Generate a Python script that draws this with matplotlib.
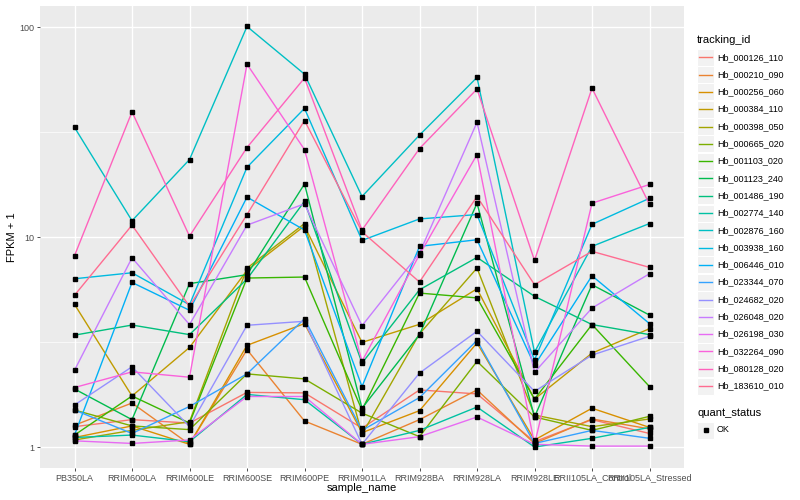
import matplotlib
matplotlib.use('Agg')
import matplotlib.pyplot as plt
from matplotlib.patches import Rectangle
from matplotlib.lines import Line2D

plt.rcParams['font.family'] = ['Liberation Sans', 'DejaVu Sans']

samples = ["PB350LA", "RRIM600LA", "RRIM600LE", "RRIM600SE", "RRIM600PE", "RRIM901LA",
           "RRIM928BA", "RRIM928LA", "RRIM928LE", "RRII105LA_Control", "RRII105LA_Stressed"]

tracking_ids = ["Hb_000126_110", "Hb_000210_090", "Hb_000256_060", "Hb_000384_110",
                "Hb_000398_050", "Hb_000665_020", "Hb_001103_020", "Hb_001123_240",
                "Hb_001486_190", "Hb_002774_140", "Hb_002876_160", "Hb_003938_160",
                "Hb_006446_010", "Hb_023344_070", "Hb_024682_020", "Hb_026048_020",
                "Hb_026198_030", "Hb_032264_090", "Hb_080128_020", "Hb_183610_010"]

colors = ["#F8766D", "#EA8331", "#D89000", "#C09B00", "#A3A500", "#7CAE00", "#39B600",
          "#00BB4E", "#00BF7D", "#00C1A3", "#00BFC4", "#00BAE0", "#00B0F6", "#35A2FF",
          "#9590FF", "#C77CFF", "#E76BF3", "#FA62DB", "#FF62BC", "#FF6C91"]

# FPKM + 1 per sample (order of `samples`)
hb_000126_110 = [1.25, 1.35, 1.30, 1.82, 1.81, 1.23, 1.87, 1.79, 1.06, 1.35, 1.16]
hb_000210_090 = [1.27, 1.62, 1.03, 2.91, 1.33, 1.03, 1.35, 1.87, 1.04, 1.36, 1.22]
hb_000256_060 = [1.11, 1.26, 1.03, 3.05, 3.87, 1.17, 1.49, 3.13, 1.08, 1.53, 1.24]
hb_000384_110 = [4.78, 1.75, 2.98, 6.94, 11.3, 3.15, 3.84, 5.67, 1.69, 2.80, 3.66]
hb_000398_050 = [1.08, 1.20, 1.32, 7.11, 11.6, 1.15, 3.46, 7.12, 1.42, 1.25, 1.36]
hb_000665_020 = [1.50, 1.26, 1.21, 2.23, 2.11, 1.45, 1.12, 2.56, 1.39, 1.20, 1.40]
hb_001103_020 = [1.14, 1.75, 1.30, 6.38, 6.45, 1.50, 5.41, 5.13, 1.69, 3.83, 1.94]
hb_001123_240 = [1.89, 1.35, 6.00, 6.62, 17.9, 1.53, 3.43, 14.5, 1.39, 5.93, 4.25]
hb_001486_190 = [3.41, 3.81, 3.43, 6.31, 14.8, 2.51, 5.61, 8.00, 5.22, 3.83, 3.43]
hb_002774_140 = [1.11, 1.14, 1.06, 1.78, 1.68, 1.03, 1.20, 1.55, 1.00, 1.10, 1.24]
hb_002876_160 = [33.3, 11.96, 23.4, 100.7, 59.7, 15.6, 30.6, 57.6, 2.83, 9.03, 11.6]
hb_003938_160 = [6.33, 6.76, 4.76, 21.5, 41.0, 9.64, 12.2, 12.8, 2.60, 11.5, 15.3]
hb_006446_010 = [1.14, 6.08, 4.48, 15.5, 10.8, 1.94, 9.03, 9.71, 2.45, 6.54, 3.87]
hb_023344_070 = [1.50, 1.16, 1.56, 2.23, 4.08, 1.20, 1.72, 3.22, 1.04, 1.20, 1.10]
hb_024682_020 = [1.585, 2.41, 1.25, 3.80, 3.97, 1.03, 2.25, 3.56, 1.84, 2.74, 3.37]
hb_026048_020 = [2.32, 7.97, 3.83, 11.4, 14.4, 3.78, 8.39, 35.2, 2.27, 4.59, 6.69]
hb_026198_030 = [1.07, 1.04, 1.08, 1.74, 1.74, 1.03, 1.12, 1.39, 1.03, 1.01, 1.01]
hb_032264_090 = [1.92, 2.28, 2.15, 66.6, 26.1, 2.56, 8.24, 24.7, 1.03, 14.5, 17.8]
hb_080128_020 = [8.15, 39.5, 10.1, 26.7, 57.2, 10.8, 26.4, 50.7, 7.74, 51.2, 14.3]
hb_183610_010 = [5.28, 11.4, 4.68, 12.8, 35.9, 10.6, 6.11, 15.6, 5.93, 8.55, 7.17]

series = [hb_000126_110, hb_000210_090, hb_000256_060, hb_000384_110, hb_000398_050,
          hb_000665_020, hb_001103_020, hb_001123_240, hb_001486_190, hb_002774_140,
          hb_002876_160, hb_003938_160, hb_006446_010, hb_023344_070, hb_024682_020,
          hb_026048_020, hb_026198_030, hb_032264_090, hb_080128_020, hb_183610_010]

W, H = 800, 500
fig = plt.figure(figsize=(8, 5), dpi=100)
fig.patch.set_facecolor('white')
ax = fig.add_axes([40 / W, 1 - 468 / H, 644 / W, 462.5 / H])
ax.set_facecolor('#EBEBEB')

xs = list(range(1, len(samples) + 1))
for vals, col in zip(series, colors):
    ax.plot(xs, vals, color=col, lw=1.0, zorder=3, solid_capstyle='butt')
for vals in series:
    ax.plot(xs, vals, linestyle='none', marker='s', ms=2.4, color='black', zorder=4)

ax.set_yscale('log')
ax.set_ylim(10 ** -0.1, 10 ** 2.103)
ax.set_xlim(0.4, len(samples) + 0.6)
ax.set_xticks(xs)
ax.set_xticklabels(samples, fontsize=6.5, color='#4D4D4D')
ax.set_yticks([1, 10, 100])
ax.set_yticklabels(['1', '10', '100'], fontsize=6.5, color='#4D4D4D')
ax.set_yticks([10 ** 0.5, 10 ** 1.5], minor=True)
ax.yaxis.set_minor_formatter(matplotlib.ticker.NullFormatter())
ax.tick_params(axis='both', which='major', length=2.5, width=0.6, color='#333333', pad=1.5)
ax.tick_params(axis='y', which='minor', length=0)
ax.grid(True, which='major', color='white', lw=1.0, zorder=0)
ax.grid(True, which='minor', axis='y', color='white', lw=0.5, zorder=0)
ax.set_axisbelow(True)
for s in ax.spines.values():
    s.set_visible(False)

fig.text(12 / W, 1 - 237 / H, 'FPKM + 1', rotation=90, ha='center', va='center', fontsize=8)
fig.text(362 / W, 1 - 488 / H, 'sample_name', ha='center', va='center', fontsize=8)

# legend: tracking_id
fig.text(697 / W, 1 - 40 / H, 'tracking_id', ha='left', va='center', fontsize=8)
y0, dy = 57.3, 17.3
for i, (tid, col) in enumerate(zip(tracking_ids, colors)):
    yc = y0 + i * dy
    fig.add_artist(Rectangle((697 / W, 1 - (yc + 8.5) / H), 17 / W, 17 / H,
                             transform=fig.transFigure, facecolor='#F2F2F2',
                             edgecolor='white', lw=0.8))
    fig.add_artist(Line2D([699 / W, 712 / W], [1 - yc / H, 1 - yc / H],
                          transform=fig.transFigure, color=col, lw=1.0))
    fig.text(717 / W, 1 - yc / H, tid, ha='left', va='center', fontsize=6.5)

# legend: quant_status
fig.text(697 / W, 1 - 413 / H, 'quant_status', ha='left', va='center', fontsize=8)
fig.add_artist(Rectangle((697 / W, 1 - (430 + 8.5) / H), 17 / W, 17 / H,
                         transform=fig.transFigure, facecolor='#F2F2F2',
                         edgecolor='white', lw=0.8))
fig.add_artist(Line2D([705.5 / W], [1 - 430 / H], transform=fig.transFigure,
                      marker='s', ms=2.4, color='black', linestyle='none'))
fig.text(717 / W, 1 - 430 / H, 'OK', ha='left', va='center', fontsize=6.5)

fig.savefig('out.png', dpi=100)
